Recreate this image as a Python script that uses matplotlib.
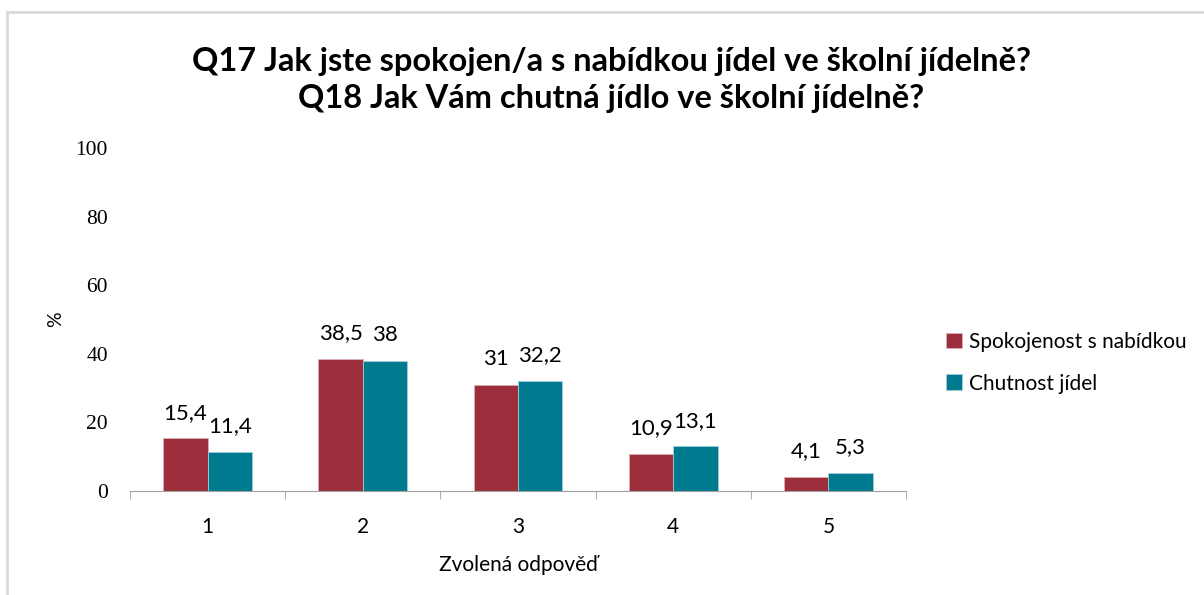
import matplotlib.pyplot as plt
import numpy as np
from matplotlib.patches import Rectangle

# Q17 / Q18 - spokojenost s nabidkou a chutnost jidel
categories = ['1', '2', '3', '4', '5']
spokojenost = [15.4, 38.5, 31, 10.9, 4.1]
chutnost = [11.4, 38, 32.2, 13.1, 5.3]
labels_spok = ['15,4', '38,5', '31', '10,9', '4,1']
labels_chut = ['11,4', '38', '32,2', '13,1', '5,3']
yticks = [0, 20, 40, 60, 80, 100]

c_red = '#9C2F3B'
c_teal = '#007A8E'
sans = ['Lato', 'DejaVu Sans']
serif = ['Liberation Serif', 'DejaVu Serif']

fig = plt.figure(figsize=[12.04, 5.95], dpi=100)
ax = fig.add_axes([130/1204, 1-491/595, 776/1204, 343/595])

x = np.arange(len(categories))
w = 0.2857
ax.bar(x - w/2, spokojenost, w, color=c_red, edgecolor='#d9b0b5', linewidth=0.6,
       label='Spokojenost s nabídkou')
ax.bar(x + w/2, chutnost, w, color=c_teal, edgecolor='#9fd0da', linewidth=0.6,
       label='Chutnost jídel')

for i in range(len(categories)):
    ax.text(x[i] - w/2, spokojenost[i] + 4.5, labels_spok[i], ha='center', va='bottom',
            fontsize=16, family=sans)
    ax.text(x[i] + w/2, chutnost[i] + 4.5, labels_chut[i], ha='center', va='bottom',
            fontsize=16, family=sans)

ax.set_xlim(-0.5, len(categories) - 0.5)
ax.set_ylim(0, 100)
ax.set_xticks(x)
ax.set_xticklabels(categories, fontsize=15, family=sans)
ax.set_xticks(np.arange(-0.5, len(categories)), minor=True)
ax.tick_params(axis='x', which='major', length=0, pad=19)
ax.tick_params(axis='x', which='minor', length=6, color='#a0a0a0')
ax.set_yticks(yticks)
ax.set_yticklabels([str(v) for v in yticks], fontsize=15.5, family=serif)
ax.tick_params(axis='y', length=0, pad=16)

for s in ['top', 'right', 'left']:
    ax.spines[s].set_visible(False)
ax.spines['bottom'].set_color('#a0a0a0')

ax.set_xlabel('Zvolená odpověď', fontsize=15, family=sans, labelpad=13)
ax.set_ylabel('%', fontsize=14, family=sans, labelpad=8)

fig.text(611/1204, 1-80/595, 'Q17 Jak jste spokojen/a s nabídkou jídel ve školní jídelně?\n'
         'Q18 Jak Vám chutná jídlo ve školní jídelně?', ha='center', va='center',
         fontsize=23.5, fontweight='bold', family=sans, linespacing=1.3)

ax.legend(loc='upper left', bbox_to_anchor=(927/1204, 1-313/595), bbox_transform=fig.transFigure,
          frameon=False, prop={'family': sans, 'size': 15}, handlelength=0.8, handleheight=0.8,
          handletextpad=0.3, labelspacing=1.05)

fig.patches.append(Rectangle((7/1204, -0.1), 1.2, 1 - 12/595 + 0.1, transform=fig.transFigure,
                             fill=False, edgecolor='#d9d9d9', linewidth=2))

plt.savefig('out.png', dpi=100)
plt.close(fig)
